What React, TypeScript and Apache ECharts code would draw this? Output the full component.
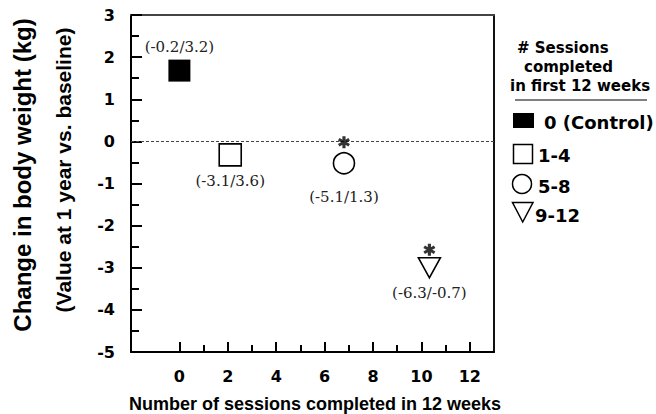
import React, { useEffect, useRef } from "react";
import * as echarts from "echarts";

// ---- data ----
const groupNames = ["0 (Control)", "1-4", "5-8", "9-12"];
const sessionsX = [0, 2.1, 6.8, 10.33];
const weightChange = [1.68, -0.32, -0.52, -3.0];
const ciLabels = ["(-0.2/3.2)", "(-3.1/3.6)", "(-5.1/1.3)", "(-6.3/-0.7)"];
const significant = [false, false, true, true];
const xMajorTicks = [0, 2, 4, 6, 8, 10, 12];
const xMinorTicks = [1, 3, 5, 7, 9, 11];
const legendTitle = ["# Sessions", "completed", "in first 12 weeks"];
const yTitle = "Change in body weight (kg)";
const ySubTitle = "(Value at 1 year vs. baseline)";
const xTitle = "Number of sessions completed in 12 weeks";

// ---- styles (per group) ----
const groupStyles = [
  { symbol: "rect", size: 22, rotate: 0, fill: "#000", labelPos: "top", dist: 5 },
  { symbol: "rect", size: 22, rotate: 0, fill: "#fff", labelPos: "bottom", dist: 7 },
  { symbol: "circle", size: 21, rotate: 0, fill: "#fff", labelPos: "bottom", dist: 15 },
  { symbol: "triangle", size: [22, 20], rotate: 180, fill: "#fff", labelPos: "bottom", dist: 7 },
];
const starOffsets = [0, 0, -21, -18];
const ASTERISK =
  "path://M-1.4,-6L1.4,-6L1.4,6L-1.4,6Z M3.97,-4.21L5.37,-1.79L-3.97,4.21L-5.37,1.79Z M5.37,1.79L3.97,4.21L-5.37,-1.79L-3.97,-4.21Z";

const SANS = "DejaVu Sans";
const ARIAL = "Liberation Sans, Arial, sans-serif";
const SERIF = "DejaVu Serif";
const TICK = "#000";

export default function App() {
  const ref = useRef<HTMLDivElement>(null);
  useEffect(() => {
    if (!ref.current) return;
    const chart = echarts.init(ref.current, null, { renderer: "svg" });

    const groupSeries = groupNames.map((name, i) => {
      const st = groupStyles[i];
      const s: any = {
        name,
        type: "scatter",
        data: [[sessionsX[i], weightChange[i]]],
        symbol: st.symbol,
        symbolSize: st.size,
        symbolRotate: st.rotate,
        itemStyle: { color: st.fill, borderColor: "#000", borderWidth: st.fill === "#000" ? 0 : 1.6, opacity: 1 },
        label: {
          show: true,
          position: st.labelPos,
          distance: st.dist,
          formatter: () => ciLabels[i],
          fontFamily: SERIF,
          fontSize: 15,
          color: "#222",
        },
        z: 3,
      };
      if (i === 0) {
        s.markLine = {
          silent: true,
          symbol: ["none", "none"],
          label: { show: false },
          lineStyle: { type: [3, 2], color: "#444", width: 1 },
          data: [{ yAxis: 0 }],
          z: 1,
        };
      }
      return s;
    });

    const starData = sessionsX
      .map((x, i) => ({ i, x, y: weightChange[i] }))
      .filter((d) => significant[d.i])
      .map((d) => ({
        value: [d.x, d.y],
        symbolOffset: [0, starOffsets[d.i]],
      }));

    const starSeries = {
      type: "scatter",
      data: starData,
      symbol: ASTERISK,
      symbolSize: [12, 12],
      itemStyle: { color: "#000" },
      silent: true,
      z: 4,
    };

    const legendItems: any[] = [
      { type: "rect", shape: { x: 513, y: 113, width: 21, height: 15 }, style: { fill: "#000" } },
      { type: "rect", shape: { x: 513.5, y: 144.5, width: 19, height: 19 }, style: { fill: "#fff", stroke: "#000", lineWidth: 1.5 } },
      { type: "circle", shape: { cx: 522, cy: 184, r: 9.5 }, style: { fill: "#fff", stroke: "#000", lineWidth: 1.5 } },
      { type: "polygon", shape: { points: [[512.5, 202.5], [533, 202.5], [522.7, 222]] }, style: { fill: "#fff", stroke: "#000", lineWidth: 1.5 } },
    ];
    const legendTextPos = [
      [544, 122],
      [538, 155],
      [538, 186],
      [535, 215],
    ];
    groupNames.forEach((n, i) => {
      legendItems.push({
        type: "text",
        x: legendTextPos[i][0],
        y: legendTextPos[i][1],
        style: { text: n, fontFamily: SANS, fontWeight: "bold", fontSize: 18, fill: "#000", textAlign: "left", textVerticalAlign: "middle" },
      });
    });
    const legendTitlePos = [
      [517, 48],
      [524, 67],
      [510, 86],
    ];
    legendTitle.forEach((t, i) => {
      legendItems.push({
        type: "text",
        x: legendTitlePos[i][0],
        y: legendTitlePos[i][1],
        style: { text: t, fontFamily: SANS, fontWeight: "bold", fontSize: 15, fill: "#000", textAlign: "left", textVerticalAlign: "middle" },
      });
    });
    legendItems.push({ type: "line", shape: { x1: 515, y1: 100, x2: 647, y2: 100 }, style: { stroke: "#000", lineWidth: 1 } });

    const titles: any[] = [
      {
        type: "text",
        x: 22,
        y: 175,
        rotation: Math.PI / 2,
        style: { text: yTitle, fontFamily: ARIAL, fontWeight: "bold", fontSize: 24, fill: "#000", textAlign: "center", textVerticalAlign: "middle" },
      },
      {
        type: "text",
        x: 63,
        y: 170,
        rotation: Math.PI / 2,
        style: { text: ySubTitle, fontFamily: ARIAL, fontWeight: "bold", fontSize: 21, fill: "#000", textAlign: "center", textVerticalAlign: "middle" },
      },
      {
        type: "text",
        x: 315,
        y: 404,
        style: { text: xTitle, fontFamily: ARIAL, fontWeight: "bold", fontSize: 18, fill: "#000", textAlign: "center", textVerticalAlign: "middle" },
      },
    ];

    const frameAxis = (pos: string, min: number, max: number) => ({
      type: "value",
      min,
      max,
      position: pos,
      axisLine: { show: true, onZero: false, lineStyle: { color: pos === "top" ? "#444" : "#111", width: 2 } },
      axisTick: { show: false },
      axisLabel: { show: false },
      splitLine: { show: false },
    });

    chart.setOption({
      animation: false,
      backgroundColor: "#fff",
      grid: {
        left: 131,
        top: 15,
        right: 162,
        bottom: 62,
        show: false,
        containLabel: false,
      },
      xAxis: [
        {
          type: "value",
          min: -2,
          max: 13,
          position: "bottom",
          axisLine: { show: true, onZero: false, lineStyle: { color: "#000", width: 2 } },
          axisTick: { show: true, inside: true, length: 10, customValues: xMajorTicks, lineStyle: { color: TICK, width: 2 } },
          axisLabel: {
            show: true,
            customValues: xMajorTicks,
            margin: 16,
            fontFamily: SANS,
            fontWeight: "bold",
            fontSize: 16,
            color: "#000",
          },
          splitLine: { show: false },
        },
        {
          type: "value",
          min: -2,
          max: 13,
          position: "bottom",
          offset: 0,
          axisLine: { show: false, onZero: false },
          axisTick: { show: true, inside: true, length: 7, customValues: xMinorTicks, lineStyle: { color: TICK, width: 2 } },
          axisLabel: { show: false },
          splitLine: { show: false },
        },
        frameAxis("top", -2, 13),
      ],
      yAxis: [
        {
          type: "value",
          min: -5,
          max: 3,
          interval: 1,
          position: "left",
          axisLine: { show: true, onZero: false, lineStyle: { color: "#000", width: 2 } },
          axisTick: { show: true, inside: true, length: 11, lineStyle: { color: TICK, width: 2 } },
          minorTick: { show: true, splitNumber: 2, length: 8, lineStyle: { color: TICK, width: 2 } },
          axisLabel: { margin: 16, fontFamily: SANS, fontWeight: "bold", fontSize: 16, color: "#000" },
          splitLine: { show: false },
        },
        frameAxis("right", -5, 3),
      ],
      series: [...groupSeries, starSeries],
      graphic: [...legendItems, ...titles],
    });

    return () => chart.dispose();
  }, []);

  return <div ref={ref} style={{ position: "fixed", left: 0, top: 0, width: 656, height: 414 }} />;
}
